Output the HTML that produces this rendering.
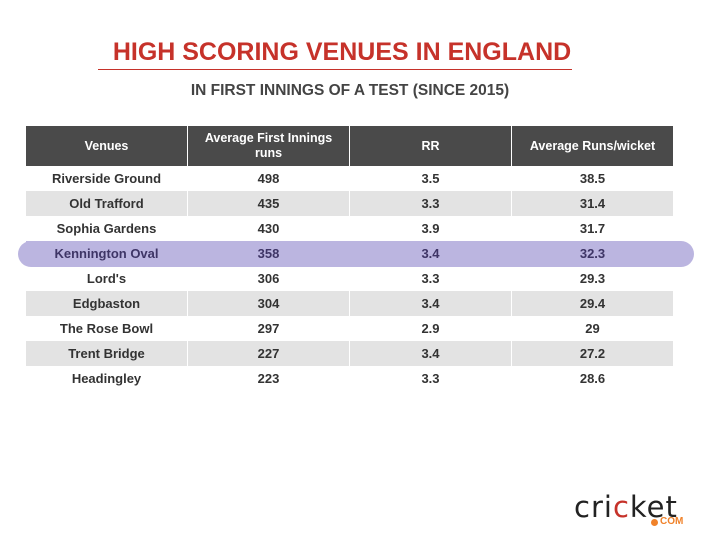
<!DOCTYPE html>
<html><head><style>
body{margin:0;width:714px;height:543px;background:#fff;font-family:"Liberation Sans",sans-serif;position:relative;overflow:hidden}
.t{position:absolute;left:0;text-align:center}
.grid{position:absolute;left:26px;top:126px;display:grid;grid-template-columns:161px 161px 161px 161px;column-gap:1px;row-gap:0}
.grid div{height:25px;line-height:25px;text-align:center;font-size:13px;font-weight:bold;color:#333}
.grid div.hd{background:#4a4a4a;color:#fff;height:40px;line-height:15px;font-size:12.5px;display:flex;align-items:center;justify-content:center}
.grid div.g{background:#e3e3e3}
.grid div.h{background:#bbb5e0;color:#3e3566}
</style></head><body>
<div class="t" style="top:38px;font-size:25px;font-weight:bold;color:#c6322a;width:684px">HIGH SCORING VENUES IN ENGLAND</div>
<div style="position:absolute;left:98px;top:69px;width:474px;height:1px;background:#c6322a"></div>
<div class="t" style="top:82px;font-size:15.5px;font-weight:bold;color:#444;width:700px">IN FIRST INNINGS OF A TEST (SINCE 2015)</div>
<div style="position:absolute;left:18px;top:241px;width:676px;height:26px;border-radius:13px;background:#bbb5e0"></div>
<div class="grid">
<div class="hd">Venues</div><div class="hd">Average First Innings<br>runs</div><div class="hd">RR</div><div class="hd">Average Runs/wicket</div>
<div>Riverside Ground</div><div>498</div><div>3.5</div><div>38.5</div>
<div class="g">Old Trafford</div><div class="g">435</div><div class="g">3.3</div><div class="g">31.4</div>
<div>Sophia Gardens</div><div>430</div><div>3.9</div><div>31.7</div>
<div class="h">Kennington Oval</div><div class="h">358</div><div class="h">3.4</div><div class="h">32.3</div>
<div>Lord's</div><div>306</div><div>3.3</div><div>29.3</div>
<div class="g">Edgbaston</div><div class="g">304</div><div class="g">3.4</div><div class="g">29.4</div>
<div>The Rose Bowl</div><div>297</div><div>2.9</div><div>29</div>
<div class="g">Trent Bridge</div><div class="g">227</div><div class="g">3.4</div><div class="g">27.2</div>
<div>Headingley</div><div>223</div><div>3.3</div><div>28.6</div>
</div>
<div style="position:absolute;left:574px;top:490px;font-size:29px;color:#222;letter-spacing:1px;font-family:'DejaVu Sans',sans-serif">cri<span style="color:#c6322a">c</span>ket</div>
<div style="position:absolute;left:651px;top:519px;width:7px;height:7px;border-radius:50%;background:#f0822a"></div>
<div style="position:absolute;left:660px;top:516px;font-size:10px;font-weight:bold;color:#f0822a">COM</div>
</body></html>
